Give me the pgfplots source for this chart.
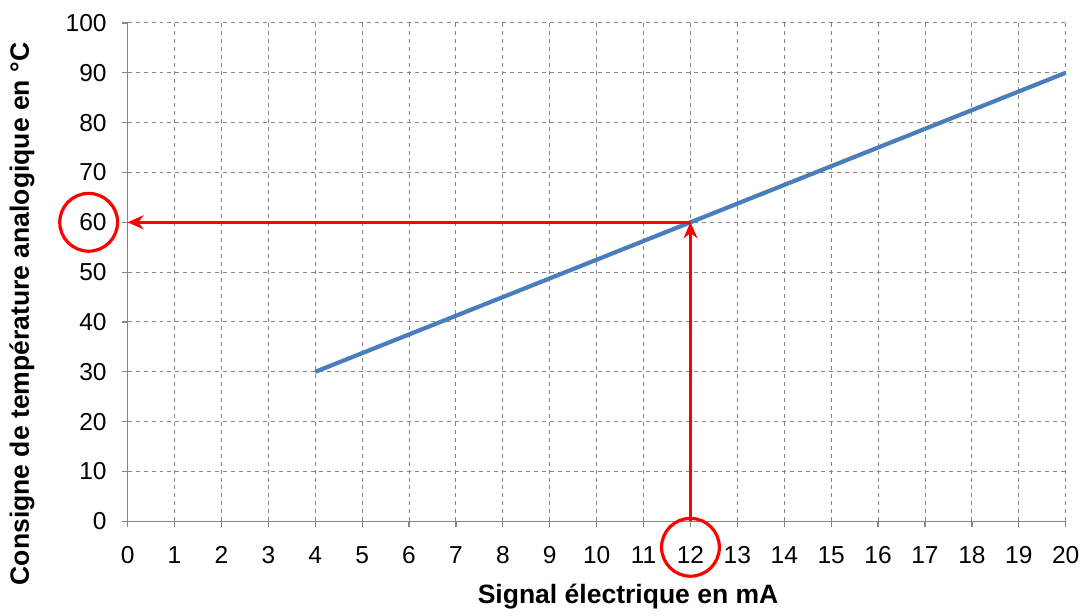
\documentclass[border=0pt]{standalone}
\usepackage{fontspec}
\setmainfont{Liberation Sans}
\usepackage{pgfplots}
\pgfplotsset{compat=1.18}
\usetikzlibrary{arrows.meta}
\definecolor{gridgray}{RGB}{134,134,134}
\definecolor{lineblue}{RGB}{74,126,187}
\begin{document}
\begin{tikzpicture}
\begin{axis}[
  at={(0,0)}, anchor=south west,
  scale only axis,
  width=470.5pt, height=250pt,
  xmin=0, xmax=20, ymin=0, ymax=100,
  xtick={0,1,...,20}, ytick={0,10,...,100},
  axis x line=bottom, axis y line=left,
  axis line style={gridgray, line width=0.6pt, -},
  tick style={gridgray, line width=0.6pt},
  tick align=outside, major tick length=3pt,
  grid=major,
  major grid style={gridgray, line width=0.5pt, dash pattern=on 2pt off 2pt},
  /pgf/number format/assume math mode=true,
  ticklabel style={font=\fontsize{12.3}{14}\selectfont, text=black},
  xticklabel style={yshift=-6pt},
  yticklabel style={xshift=-4pt},
  clip=false,
]
\addplot[lineblue, line width=2.1pt] coordinates {(4,30) (20,90)};
\draw[red, line width=1.7pt, -{Stealth[length=8pt,width=7pt]}] (axis cs:12,0) -- (axis cs:12,60);
\draw[red, line width=1.7pt, -{Stealth[length=8pt,width=7pt]}] (axis cs:12,60) -- (axis cs:0,60);
\draw[red, line width=1.6pt] (axis cs:-0.83,60) circle[radius=14.5pt];
\draw[red, line width=1.6pt] (axis cs:12,-5.2) circle[radius=14.5pt];
\node[font=\bfseries\fontsize{13.3}{15}\selectfont] at (axis description cs:0.5335,-0.15) {Signal électrique en mA};
\node[font=\bfseries\fontsize{13.3}{15}\selectfont, rotate=90] at (axis description cs:-0.1126,0.416) {Consigne de température analogique en °C};
\end{axis}
\path[use as bounding box] (-64pt,-44.5pt) rectangle (479pt,261.5pt);
\end{tikzpicture}
\end{document}
